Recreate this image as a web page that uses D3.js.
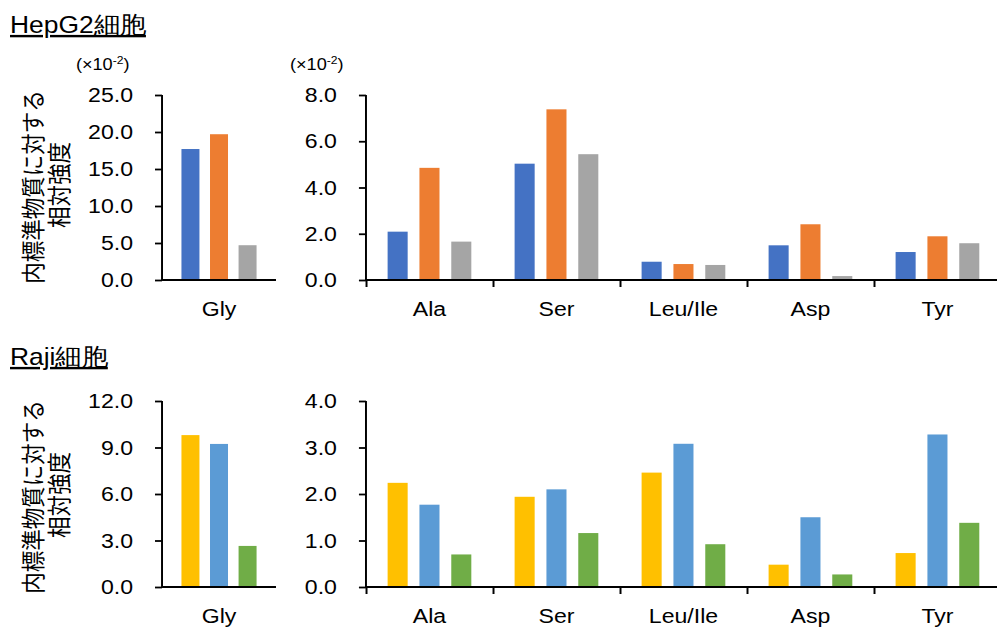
<!DOCTYPE html>
<html>
<head>
<meta charset="utf-8">
<style>
    body { margin: 0; background: #fff; }
    svg text { fill: #000; font-family: "Liberation Sans", Arial, sans-serif; }
    .jp { font-family: "Noto Sans CJK JP", sans-serif; }
</style>
</head>
<body>
<script src="https://cdn.jsdelivr.net/npm/d3@7"></script>
<script>
    // data
    var leftCats = ["Gly"];
    var rightCats = ["Ala", "Ser", "Leu/Ile", "Asp", "Tyr"];

    var hepGly = [17.7, 19.7, 4.7];
    var hepBlue = [2.09, 5.03, 0.79, 1.50, 1.21];
    var hepOrange = [4.85, 7.38, 0.69, 2.41, 1.89];
    var hepGray = [1.66, 5.44, 0.65, 0.17, 1.59];

    var rajiGly = [9.8, 9.23, 2.65];
    var rajiYellow = [2.24, 1.94, 2.46, 0.48, 0.73];
    var rajiBlue = [1.77, 2.10, 3.08, 1.50, 3.28];
    var rajiGreen = [0.70, 1.16, 0.92, 0.27, 1.38];

    var hepLeftTicks = [0, 5, 10, 15, 20, 25];
    var hepRightTicks = [0, 2, 4, 6, 8];
    var rajiLeftTicks = [0, 3, 6, 9, 12];
    var rajiRightTicks = [0, 1, 2, 3, 4];

    var hepColors = ["#4472C4", "#ED7D31", "#A5A5A5"];
    var rajiColors = ["#FFC000", "#5B9BD5", "#70AD47"];

    var width = 997, height = 627;
    var sx = 1.1; // the original is stretched a bit horizontally

    var svg = d3.select("body").append("svg")
        .attr("width", width)
        .attr("height", height);

    var root = svg.append("g").attr("transform", "scale(" + sx + ",1)");

    function drawPanel(cats, series, colors, ticks, x0, x1, top, base, catTicks) {
        var g = root.append("g");
        var y = d3.scaleLinear().domain([ticks[0], ticks[ticks.length - 1]]).range([base, top]);
        var x = d3.scaleBand().domain(cats).range([x0, x1]);
        var xs = d3.scaleBand().domain(d3.range(series.length))
            .range([0, x.bandwidth()]).paddingInner(0.37).paddingOuter(0.68);

        // bars
        series.forEach(function (vals, si) {
            g.append("g").selectAll("rect")
                .data(vals)
                .enter().append("rect")
                .attr("x", function (d, i) { return x(cats[i]) + xs(si); })
                .attr("y", function (d) { return y(d); })
                .attr("width", xs.bandwidth())
                .attr("height", function (d) { return base - y(d); })
                .attr("fill", colors[si]);
        });

        // y axis
        var ya = g.append("g")
            .attr("transform", "translate(" + x0 + ",0)")
            .call(d3.axisLeft(y).tickValues(ticks).tickFormat(d3.format(".1f"))
                .tickSize(6.4).tickPadding(20));
        ya.selectAll("path, line").attr("stroke", "#000").attr("stroke-width", 1.8);
        ya.selectAll("text").style("font-size", "21px");
        ya.select(".domain").attr("d", "M0," + base + "V" + top);

        // x axis line + boundary ticks
        var xb = d3.scaleLinear().domain([0, cats.length]).range([x0, x1]);
        var xa = g.append("g")
            .attr("transform", "translate(0," + base + ")")
            .call(d3.axisBottom(xb).tickValues(catTicks ? d3.range(cats.length) : [])
                .tickSize(7).tickFormat(""));
        xa.selectAll("path, line").attr("stroke", "#000").attr("stroke-width", 1.8);
        xa.select(".domain").attr("d", "M" + x0 + ",0H" + x1);

        // category labels
        var xl = g.append("g")
            .attr("transform", "translate(0," + base + ")")
            .call(d3.axisBottom(x).tickSize(0).tickPadding(21));
        xl.select(".domain").remove();
        xl.selectAll("text").style("font-size", "21px");
        return g;
    }

    function yLabel(cy) {
        var lines = ["内標準物質に対する", "相対強度"];
        var cx = [29.5, 52.5];
        lines.forEach(function (t, i) {
            root.append("text")
                .attr("class", "jp")
                .attr("transform", "translate(" + cx[i] + "," + (cy - i * 2) + ") rotate(-90)")
                .attr("text-anchor", "middle")
                .attr("dominant-baseline", "central")
                .style("font-size", "21.5px")
                .text(t);
        });
    }

    function title(t, yb) {
        root.append("text")
            .attr("x", 9.1)
            .attr("y", yb)
            .style("font-size", "24px")
            .style("text-decoration", "underline")
            .text(t);
    }

    function unitLabel(xp, yp) {
        var t = root.append("text").attr("x", xp).attr("y", yp).style("font-size", "16.5px");
        t.append("tspan").text("(×10");
        t.append("tspan").attr("dy", -6).style("font-size", "11px").text("-2");
        t.append("tspan").attr("dy", 6).text(")");
    }

    // HepG2
    title("HepG2細胞", 33);
    unitLabel(69, 70);
    unitLabel(263.6, 70);
    yLabel(187);
    drawPanel(leftCats, [[hepGly[0]], [hepGly[1]], [hepGly[2]]], hepColors, hepLeftTicks,
        147.3, 250.9, 95, 280, false);
    drawPanel(rightCats, [hepBlue, hepOrange, hepGray], hepColors, hepRightTicks,
        332.7, 332.7 + 115.45 * 5, 95, 280, true);

    // Raji
    title("Raji細胞", 365);
    yLabel(497);
    drawPanel(leftCats, [[rajiGly[0]], [rajiGly[1]], [rajiGly[2]]], rajiColors, rajiLeftTicks,
        147.3, 250.9, 401, 587, false);
    drawPanel(rightCats, [rajiYellow, rajiBlue, rajiGreen], rajiColors, rajiRightTicks,
        332.7, 332.7 + 115.45 * 5, 401, 587, true);
</script>
</body>
</html>
